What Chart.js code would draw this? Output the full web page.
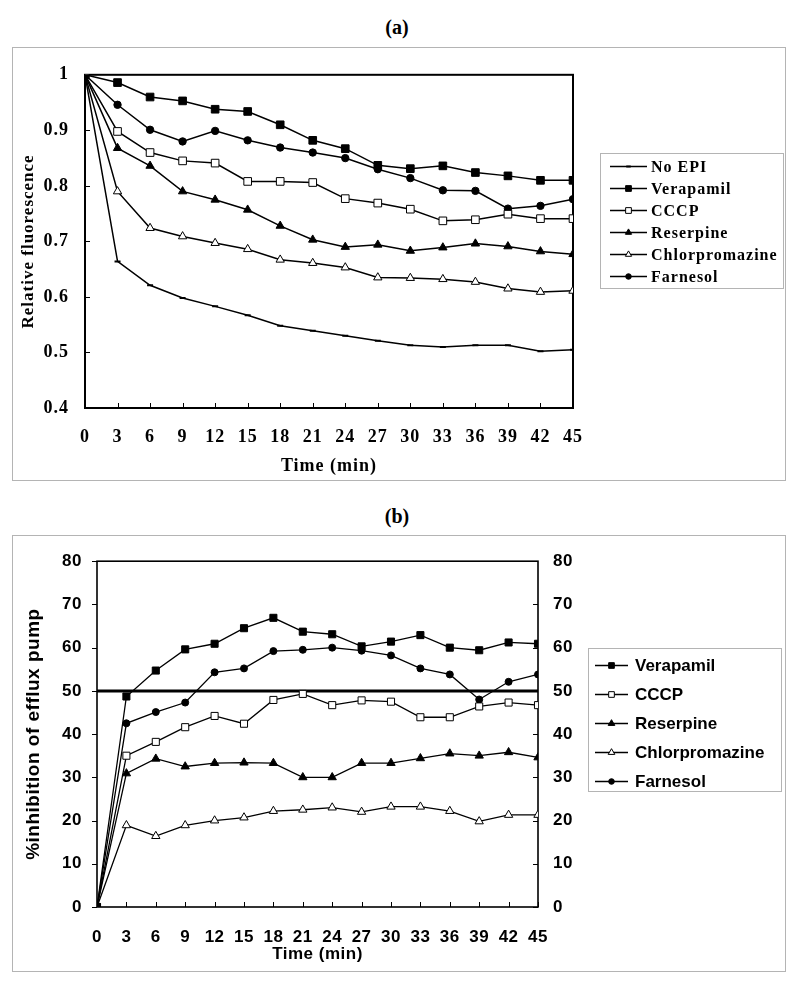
<!DOCTYPE html>
<html>
<head>
<meta charset="utf-8">
<title>Efflux pump charts</title>
<script src="https://cdn.jsdelivr.net/npm/chart.js@4.4.1/dist/chart.umd.min.js"></script>
<style>
  body { margin: 0; background: #fff; width: 794px; height: 981px; position: relative; overflow: hidden; }
  .panel-title { position: absolute; left: 0; width: 794px; text-align: center; font: bold 20px "Liberation Serif", serif; line-height: 23px; }
  .frame { position: absolute; left: 12px; width: 774px; border: 1px solid #b4b4b4; box-sizing: border-box; }
  .frame canvas { display: block; }
</style>
</head>
<body>
<div class="panel-title" style="top:16px">(a)</div>
<div class="frame" style="top:47px;height:434px"><canvas id="chartA" width="772" height="432"></canvas></div>
<div class="panel-title" style="top:505px">(b)</div>
<div class="frame" style="top:535px;height:437px"><canvas id="chartB" width="772" height="435"></canvas></div>
<script>
// sampling times (min), shared by both panels
const times = [0, 3, 6, 9, 12, 15, 18, 21, 24, 27, 30, 33, 36, 39, 42, 45];

// (a) relative fluorescence
const fluorNoEpi = [1, 0.664, 0.621, 0.598, 0.583, 0.567, 0.548, 0.539, 0.530, 0.521, 0.513, 0.510, 0.513, 0.513, 0.502, 0.505];
const fluorVerapamil = [1, 0.986, 0.960, 0.953, 0.938, 0.934, 0.910, 0.882, 0.867, 0.837, 0.831, 0.836, 0.824, 0.818, 0.810, 0.810];
const fluorCccp = [1, 0.898, 0.860, 0.845, 0.841, 0.808, 0.808, 0.806, 0.777, 0.769, 0.758, 0.737, 0.739, 0.749, 0.741, 0.741];
const fluorReserpine = [1, 0.868, 0.836, 0.790, 0.775, 0.757, 0.728, 0.703, 0.690, 0.694, 0.683, 0.689, 0.696, 0.691, 0.682, 0.677];
const fluorChlorpromazine = [1, 0.790, 0.724, 0.709, 0.697, 0.686, 0.667, 0.661, 0.653, 0.635, 0.634, 0.632, 0.627, 0.615, 0.609, 0.611];
const fluorFarnesol = [1, 0.946, 0.901, 0.880, 0.899, 0.882, 0.869, 0.860, 0.850, 0.830, 0.814, 0.792, 0.791, 0.759, 0.764, 0.776];

// (b) % inhibition of efflux pump
const inhibVerapamil = [0, 48.7, 54.7, 59.6, 60.9, 64.5, 66.9, 63.7, 63.1, 60.3, 61.4, 62.9, 60.0, 59.4, 61.2, 60.9];
const inhibCccp = [0, 35.0, 38.2, 41.6, 44.2, 42.4, 47.9, 49.3, 46.7, 47.8, 47.5, 43.9, 43.9, 46.4, 47.3, 46.7];
const inhibReserpine = [0, 30.9, 34.3, 32.5, 33.3, 33.4, 33.3, 30.0, 30.0, 33.3, 33.3, 34.4, 35.5, 35.0, 35.8, 34.6];
const inhibChlorpromazine = [0, 18.9, 16.4, 18.9, 20.0, 20.7, 22.2, 22.5, 23.0, 22.0, 23.2, 23.2, 22.2, 19.8, 21.3, 21.3];
const inhibFarnesol = [0, 42.5, 45.1, 47.3, 54.3, 55.2, 59.2, 59.5, 60.0, 59.3, 58.2, 55.2, 53.8, 48.0, 52.1, 53.8];
const inhibThreshold = 50;

const serif = '"Liberation Serif", "Times New Roman", serif';
const sans = '"Liberation Sans", Arial, sans-serif';

// marker looks per drug
const markers = {
  'No EPI': { style: 'line', fill: '#000' },
  'Verapamil': { style: 'rect', fill: '#000' },
  'CCCP': { style: 'rect', fill: '#fff' },
  'Reserpine': { style: 'triangle', fill: '#000' },
  'Chlorpromazine': { style: 'triangle', fill: '#fff' },
  'Farnesol': { style: 'circle', fill: '#000' }
};

function series(label, values, radii, width) {
  const m = markers[label];
  return {
    label: label,
    data: times.map((t, i) => ({ x: t, y: values[i] })),
    borderColor: '#000',
    borderWidth: width,
    pointStyle: m.style,
    pointRadius: radii[m.style],
    pointBackgroundColor: m.fill,
    pointBorderColor: '#000',
    pointBorderWidth: m.style === 'line' ? 2 : 1,
    tension: 0
  };
}

// black frame round the plot plus short tick marks
const frameTicks = {
  id: 'frameTicks',
  beforeDraw(chart, args, o) {
    chart.ctx.letterSpacing = o.spacing || '0px';
  },
  beforeDatasetsDraw(chart, args, o) {
    const { ctx, chartArea: a } = chart;
    ctx.save();
    ctx.strokeStyle = '#000';
    ctx.lineWidth = o.width;
    ctx.strokeRect(a.left, a.top, a.right - a.left, a.bottom - a.top);
    ctx.lineWidth = 1;
    ctx.beginPath();
    const xs = chart.scales.x;
    xs.ticks.forEach(t => {
      const px = Math.round(xs.getPixelForValue(t.value)) + 0.5;
      ctx.moveTo(px, a.bottom);
      ctx.lineTo(px, a.bottom - o.len);
    });
    const ys = chart.scales.y;
    ys.ticks.forEach(t => {
      const py = Math.round(ys.getPixelForValue(t.value)) + 0.5;
      ctx.moveTo(a.left, py);
      ctx.lineTo(a.left + (o.leftOut ? -o.len : o.len), py);
      if (chart.scales.y2) {
        ctx.moveTo(a.right, py);
        ctx.lineTo(a.right - o.len, py);
      }
    });
    ctx.stroke();
    ctx.restore();
  }
};

// legend inside a thin grey box, line + marker sample per series
const boxLegend = {
  id: 'boxLegend',
  afterDraw(chart, args, o) {
    const ctx = chart.ctx;
    ctx.save();
    ctx.letterSpacing = o.spacing || '0px';
    ctx.strokeStyle = '#b4b4b4';
    ctx.lineWidth = 1;
    ctx.strokeRect(o.left + 0.5, o.top + 0.5, o.width, o.height);
    ctx.font = o.font;
    ctx.textBaseline = 'middle';
    ctx.textAlign = 'left';
    let row = 0;
    chart.data.datasets.forEach(ds => {
      if (ds.hideInLegend) return;
      const y = Math.round(o.top + o.first + o.step * row++) + 0.5;
      ctx.strokeStyle = '#000';
      ctx.lineWidth = 1.3;
      ctx.beginPath();
      ctx.moveTo(o.lineFrom, y);
      ctx.lineTo(o.lineTo, y);
      ctx.stroke();
      ctx.fillStyle = ds.pointBackgroundColor;
      ctx.lineWidth = ds.pointBorderWidth;
      Chart.helpers.drawPoint(ctx, {
        pointStyle: ds.pointStyle,
        radius: ds.pointRadius * o.markerScale,
        borderWidth: ds.pointBorderWidth,
        rotation: 0
      }, (o.lineFrom + o.lineTo) / 2, y);
      ctx.fillStyle = '#000';
      ctx.fillText(ds.label, o.textX, y + 1);
    });
    ctx.restore();
  }
};

const radiiA = { line: 3, rect: 5.4, triangle: 4.8, circle: 3.7 };
const radiiB = { line: 3, rect: 5, triangle: 4.8, circle: 3.5 };

new Chart(document.getElementById('chartA'), {
  type: 'line',
  data: {
    datasets: [
      series('No EPI', fluorNoEpi, radiiA, 1.5),
      series('Verapamil', fluorVerapamil, radiiA, 1.5),
      series('CCCP', fluorCccp, radiiA, 1.5),
      series('Reserpine', fluorReserpine, radiiA, 1.5),
      series('Chlorpromazine', fluorChlorpromazine, radiiA, 1.5),
      series('Farnesol', fluorFarnesol, radiiA, 1.5)
    ]
  },
  options: {
    responsive: false,
    animation: false,
    layout: { padding: { top: 14, right: 212, bottom: 0, left: 0 } },
    plugins: {
      legend: { display: false },
      tooltip: { enabled: false },
      frameTicks: { width: 2, len: 5, leftOut: false, spacing: '1px' },
      boxLegend: {
        left: 587, top: 105, width: 183, height: 135,
        first: 13, step: 22, lineFrom: 597, lineTo: 634, textX: 638,
        markerScale: 0.75, font: 'bold 16px ' + serif, spacing: '1px'
      }
    },
    scales: {
      x: {
        type: 'linear', min: 0, max: 45,
        border: { display: false },
        grid: { display: false, drawTicks: false },
        ticks: { stepSize: 3, autoSkip: false, maxRotation: 0, padding: 19, color: '#000', font: { family: serif, size: 18, weight: 'bold' } },
        title: { display: true, text: 'Time (min)', color: '#000', padding: { top: 0, bottom: 3 }, font: { family: serif, size: 18, weight: 'bold' } },
        afterFit(s) { s.height = 72; }
      },
      y: {
        min: 0.4, max: 1,
        border: { display: false },
        grid: { display: false, drawTicks: false },
        ticks: { stepSize: 0.1, padding: 16, color: '#000', font: { family: serif, size: 18, weight: 'bold' },
          callback: v => (Math.abs(v - 1) < 1e-9 ? '1' : v.toFixed(1)) },
        title: { display: true, text: 'Relative fluorescence', color: '#000', padding: { top: 5, bottom: 0 }, font: { family: serif, size: 17, weight: 'bold' } },
        afterFit(s) { s.width = 72; }
      }
    }
  },
  plugins: [frameTicks, boxLegend]
});

const thresholdLine = {
  label: 'threshold',
  hideInLegend: true,
  data: [{ x: 0, y: inhibThreshold }, { x: 45, y: inhibThreshold }],
  borderColor: '#000',
  borderWidth: 3,
  pointRadius: 0
};

new Chart(document.getElementById('chartB'), {
  type: 'line',
  data: {
    datasets: [
      series('Verapamil', inhibVerapamil, radiiB, 1.3),
      series('CCCP', inhibCccp, radiiB, 1.3),
      series('Reserpine', inhibReserpine, radiiB, 1.3),
      series('Chlorpromazine', inhibChlorpromazine, radiiB, 1.3),
      series('Farnesol', inhibFarnesol, radiiB, 1.3),
      thresholdLine
    ]
  },
  options: {
    responsive: false,
    animation: false,
    layout: { padding: { top: 16, right: 187, bottom: 0, left: 0 } },
    plugins: {
      legend: { display: false },
      tooltip: { enabled: false },
      frameTicks: { width: 1.6, len: 5, leftOut: true, spacing: '0.5px' },
      boxLegend: {
        left: 575, top: 112, width: 193, height: 143,
        first: 17, step: 29, lineFrom: 582, lineTo: 615, textX: 622,
        markerScale: 0.8, font: 'bold 17px ' + sans, spacing: '0px'
      }
    },
    scales: {
      x: {
        type: 'linear', min: 0, max: 45,
        border: { display: false },
        grid: { display: false, drawTicks: false },
        ticks: { stepSize: 3, autoSkip: false, maxRotation: 0, padding: 20, color: '#000', font: { family: sans, size: 17, weight: 'bold' } },
        title: { display: true, text: 'Time (min)', color: '#000', padding: { top: 0, bottom: 6 }, font: { family: sans, size: 17, weight: 'bold' } },
        afterFit(s) { s.height = 64; }
      },
      y: {
        min: 0, max: 80,
        border: { display: false },
        grid: { display: false, drawTicks: false },
        ticks: { stepSize: 10, padding: 15, color: '#000', font: { family: sans, size: 17, weight: 'bold' } },
        title: { display: true, text: '%inhibition of efflux pump', color: '#000', padding: { top: 9, bottom: 0 }, font: { family: sans, size: 19, weight: 'bold' } },
        afterFit(s) { s.width = 84; }
      },
      y2: {
        position: 'right',
        min: 0, max: 80,
        border: { display: false },
        grid: { display: false, drawTicks: false },
        ticks: { stepSize: 10, padding: 15, color: '#000', font: { family: sans, size: 17, weight: 'bold' } },
        afterFit(s) { s.width = 60; }
      }
    }
  },
  plugins: [frameTicks, boxLegend]
});
</script>
</body>
</html>
